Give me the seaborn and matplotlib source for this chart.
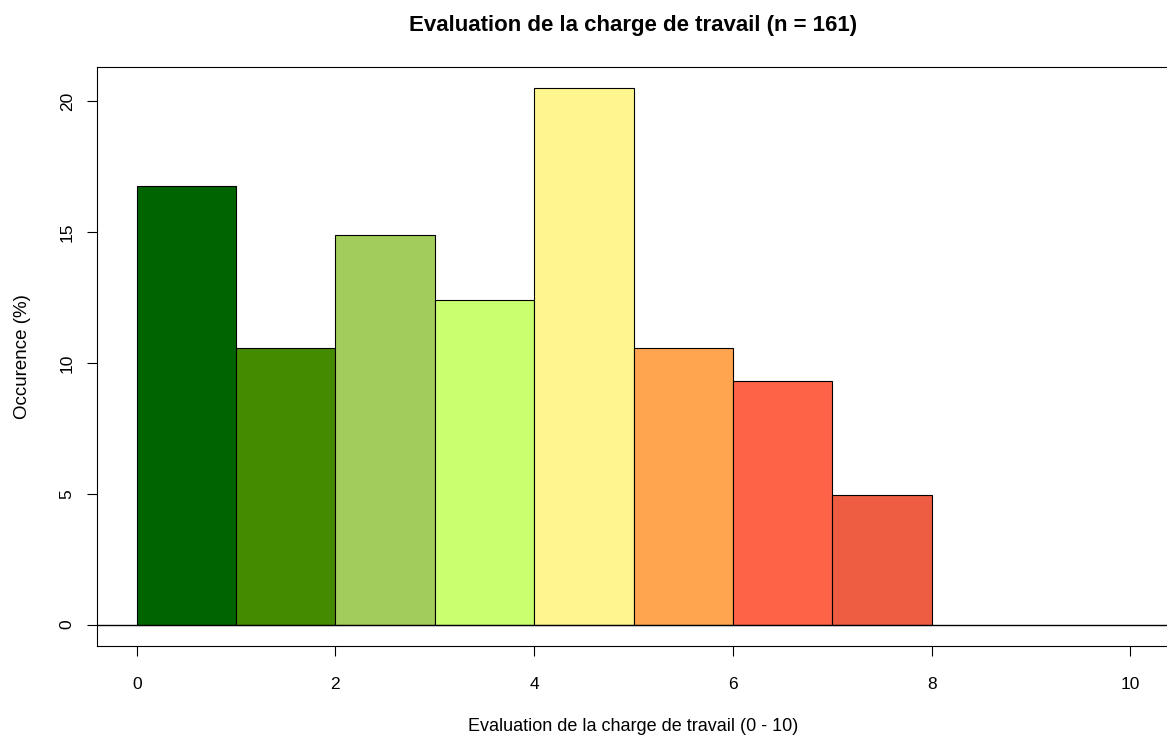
import seaborn as sns
import matplotlib.pyplot as plt
import matplotlib
import numpy as np
import pandas as pd

matplotlib.use('Agg')

# Counts per score class (n = 161), shown as percentages
bin_edges = [0, 1, 2, 3, 4, 5, 6, 7, 8]
counts = [27, 17, 24, 20, 33, 17, 15, 8]
bar_colors = ["#006400", "#458B00", "#A2CD5A", "#CAFF70",
              "#FFF68F", "#FFA54F", "#FF6347", "#EE5C42"]
x_ticks = [0, 2, 4, 6, 8, 10]
y_ticks = [0, 5, 10, 15, 20]
n_total = sum(counts)

df = pd.DataFrame({
    "score": np.array(bin_edges[:-1]) + 0.5,
    "pct": np.array(counts) / n_total * 100,
})

sns.set_style("white")
plt.rcParams['font.family'] = ['Liberation Sans', 'DejaVu Sans']
plt.rcParams['text.color'] = "black"
plt.rcParams['axes.labelcolor'] = "black"
plt.rcParams['xtick.color'] = "black"
plt.rcParams['ytick.color'] = "black"

fig = plt.figure(figsize=(11.67, 7.38), dpi=100)
ax = fig.add_axes([0.0831, 0.1247, 0.9195, 0.7846])

sns.histplot(data=df, x="score", weights="pct", bins=bin_edges, ax=ax,
             edgecolor="black", linewidth=0.8, alpha=1)
for patch, c in zip(ax.patches, bar_colors):
    patch.set_facecolor(c)

ax.axhline(0, color="black", linewidth=1)

ax.set_xlim(-0.4, 10.4)
ax.set_ylim(-0.82, 21.32)
ax.set_xticks(x_ticks)
ax.set_yticks(y_ticks)
ax.set_yticklabels([str(v) for v in y_ticks], rotation=90, va="center")
ax.tick_params(axis="both", direction="out", length=7, width=0.8,
               color="black", labelsize=12.5, bottom=True, left=True)
ax.tick_params(axis="x", pad=15)
ax.tick_params(axis="y", pad=9)

for spine in ax.spines.values():
    spine.set_color("black")
    spine.set_linewidth(0.8)

ax.set_title(f"Evaluation de la charge de travail (n = {n_total})",
             fontsize=16, fontweight="bold", pad=26)
ax.set_xlabel("Evaluation de la charge de travail (0 - 10)", fontsize=13, labelpad=19)
ax.set_ylabel("Occurence (%)", fontsize=13.5, labelpad=21)

fig.savefig("out.png", dpi=100)
